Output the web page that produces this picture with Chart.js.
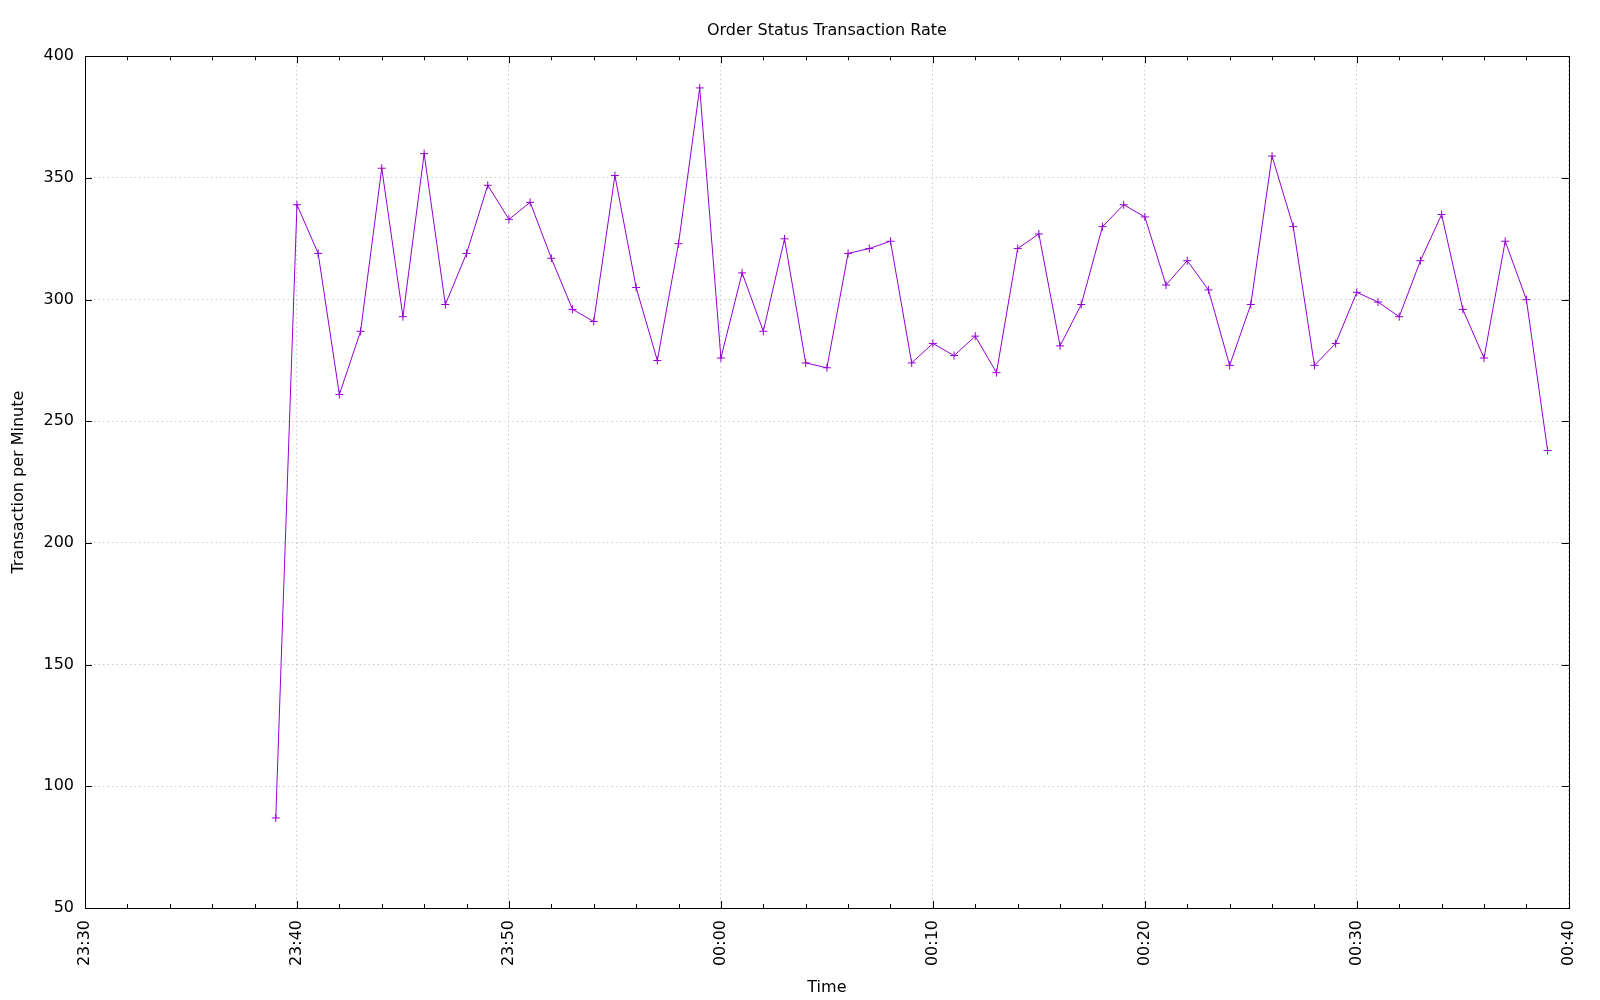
<!DOCTYPE html>
<html>
<head>
<meta charset="utf-8">
<script src="https://cdn.jsdelivr.net/npm/chart.js@4.4.0/dist/chart.umd.min.js"></script>
<style>
  html, body { margin: 0; padding: 0; background: #fff; }
  canvas { display: block; }
</style>
</head>
<body>
<canvas id="myChart" width="1600" height="1000"></canvas>
<script>
// one sample per minute, 23:39 .. 00:39
var times = [
  "23:39","23:40","23:41","23:42","23:43","23:44","23:45","23:46","23:47","23:48",
  "23:49","23:50","23:51","23:52","23:53","23:54","23:55","23:56","23:57","23:58",
  "23:59","00:00","00:01","00:02","00:03","00:04","00:05","00:06","00:07","00:08",
  "00:09","00:10","00:11","00:12","00:13","00:14","00:15","00:16","00:17","00:18",
  "00:19","00:20","00:21","00:22","00:23","00:24","00:25","00:26","00:27","00:28",
  "00:29","00:30","00:31","00:32","00:33","00:34","00:35","00:36","00:37","00:38",
  "00:39"
];
var rates = [
  87, 339, 319, 261, 287, 354, 293, 360, 298, 319,
  347, 333, 340, 317, 296, 291, 351, 305, 275, 323,
  387, 276, 311, 287, 325, 274, 272, 319, 321, 324,
  274, 282, 277, 285, 270, 321, 327, 281, 298, 330,
  339, 334, 306, 316, 304, 273, 298, 359, 330, 273,
  282, 303, 299, 293, 316, 335, 296, 276, 324, 300,
  238
];
var xTickLabels = ["23:30","23:40","23:50","00:00","00:10","00:20","00:30","00:40"];
var yTicks = [50, 100, 150, 200, 250, 300, 350, 400];

var fontFamily = "'DejaVu Sans', sans-serif";
var startMin = 23 * 60 + 30;

function toOffset(t) {
  var h = parseInt(t.split(":")[0], 10);
  var m = parseInt(t.split(":")[1], 10);
  if (h < 12) h += 24;
  return h * 60 + m - startMin;
}

var points = times.map(function(t, i) {
  return { x: toOffset(t), y: rates[i] };
});

// gnuplot style frame with inward tick marks on all four sides
var frameTicks = {
  id: 'frameTicks',
  afterDraw: function(chart) {
    var ctx = chart.ctx;
    var a = chart.chartArea;
    var xs = chart.scales.x, ys = chart.scales.y;
    ctx.save();
    ctx.strokeStyle = '#000';
    ctx.lineWidth = 1;
    ctx.strokeRect(Math.round(a.left) + 0.5, Math.round(a.top) + 0.5,
      Math.round(a.right - a.left), Math.round(a.bottom - a.top));
    ctx.beginPath();
    xs.ticks.forEach(function(t) {
      var px = Math.round(xs.getPixelForValue(t.value)) + 0.5;
      var len = (t.value % 10 === 0) ? 7 : 4;
      ctx.moveTo(px, a.bottom); ctx.lineTo(px, a.bottom - len);
      ctx.moveTo(px, a.top); ctx.lineTo(px, a.top + len);
    });
    ys.ticks.forEach(function(t) {
      var py = Math.round(ys.getPixelForValue(t.value)) + 0.5;
      ctx.moveTo(a.left, py); ctx.lineTo(a.left + 7, py);
      ctx.moveTo(a.right, py); ctx.lineTo(a.right - 7, py);
    });
    ctx.stroke();
    ctx.restore();
  }
};

var ctx = document.getElementById("myChart");
new Chart(ctx, {
  type: 'line',
  data: {
    datasets: [{
      label: 'Order Status',
      data: points,
      borderColor: '#9400d3',
      backgroundColor: '#9400d3',
      borderWidth: 1,
      pointStyle: 'cross',
      pointRadius: 4,
      pointBorderWidth: 1,
      pointHoverRadius: 4,
      fill: false,
      tension: 0
    }]
  },
  options: {
    responsive: false,
    animation: false,
    layout: { padding: { left: 0, right: 31, top: 0, bottom: 0 } },
    plugins: {
      legend: { display: false },
      tooltip: { enabled: false },
      title: {
        display: true,
        fullSize: false,
        text: 'Order Status Transaction Rate',
        color: '#000',
        font: { family: fontFamily, size: 16, weight: 'normal' },
        padding: { top: 21, bottom: 16.1 }
      }
    },
    scales: {
      x: {
        type: 'linear',
        min: 0,
        max: 70,
        afterFit: function(s) { s.height = 92; },
        ticks: {
          stepSize: 2,
          autoSkip: false,
          maxRotation: 90,
          minRotation: 90,
          padding: 12,
          color: '#000',
          font: { family: fontFamily, size: 16 },
          callback: function(v) {
            return (v % 10 === 0) ? xTickLabels[v / 10] : '';
          }
        },
        grid: {
          drawTicks: false,
          color: function(c) {
            return (c.tick && c.tick.value % 10 === 0) ? '#c8c8c8' : 'rgba(0,0,0,0)';
          }
        },
        border: { display: false, dash: [1.5, 3] },
        title: {
          display: true,
          text: 'Time',
          color: '#000',
          font: { family: fontFamily, size: 16 },
          padding: { top: 2.4, bottom: 2.4 }
        }
      },
      y: {
        min: yTicks[0],
        max: yTicks[yTicks.length - 1],
        afterFit: function(s) { s.width = 85; },
        ticks: {
          stepSize: 50,
          padding: 11,
          color: '#000',
          font: { family: fontFamily, size: 16 }
        },
        grid: { drawTicks: false, color: '#c8c8c8' },
        border: { display: false, dash: [1.5, 3] },
        title: {
          display: true,
          text: 'Transaction per Minute',
          color: '#000',
          font: { family: fontFamily, size: 16 },
          padding: { top: 9, bottom: 9 }
        }
      }
    }
  },
  plugins: [frameTicks]
});
</script>
</body>
</html>
